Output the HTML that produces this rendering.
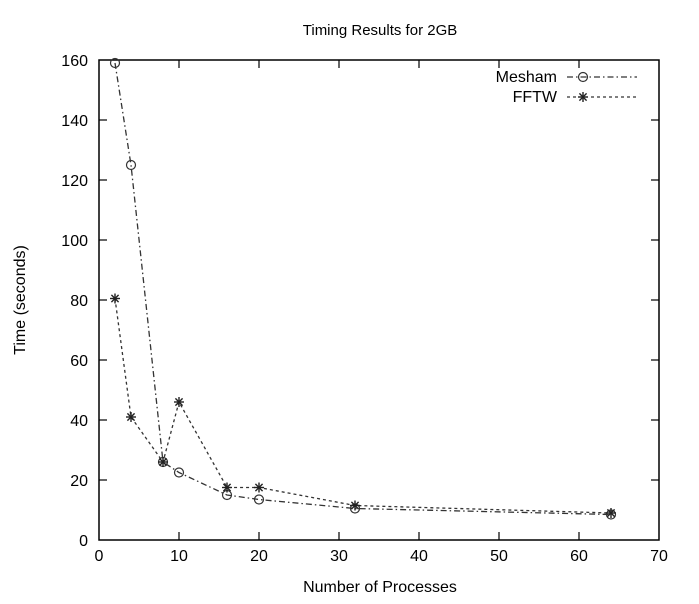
<!DOCTYPE html><html><head><style>body{margin:0;background:#fff}</style></head><body>
<svg width="699" height="599" xmlns="http://www.w3.org/2000/svg" font-family="Liberation Sans, sans-serif" fill="#000">
<defs><g id="st" stroke="#222" stroke-width="1.4"><line x1="-5" y1="0" x2="5" y2="0"/><line x1="0" y1="-5" x2="0" y2="5"/><line x1="-3.6" y1="-3.6" x2="3.6" y2="3.6"/><line x1="-3.6" y1="3.6" x2="3.6" y2="-3.6"/></g></defs>
<rect width="699" height="599" fill="#fff"/>
<text x="380" y="35" font-size="15" text-anchor="middle">Timing Results for 2GB</text>
<rect x="99" y="60" width="560" height="480" fill="none" stroke="#000" stroke-width="1.5"/>
<g stroke="#000" stroke-width="1.2">
<line x1="179" y1="540" x2="179" y2="532"/><line x1="259" y1="540" x2="259" y2="532"/><line x1="339" y1="540" x2="339" y2="532"/><line x1="419" y1="540" x2="419" y2="532"/><line x1="499" y1="540" x2="499" y2="532"/><line x1="579" y1="540" x2="579" y2="532"/>
<line x1="179" y1="60" x2="179" y2="68"/><line x1="259" y1="60" x2="259" y2="68"/><line x1="339" y1="60" x2="339" y2="68"/><line x1="419" y1="60" x2="419" y2="68"/><line x1="499" y1="60" x2="499" y2="68"/><line x1="579" y1="60" x2="579" y2="68"/>
<line x1="99" y1="480" x2="107" y2="480"/><line x1="99" y1="420" x2="107" y2="420"/><line x1="99" y1="360" x2="107" y2="360"/><line x1="99" y1="300" x2="107" y2="300"/><line x1="99" y1="240" x2="107" y2="240"/><line x1="99" y1="180" x2="107" y2="180"/><line x1="99" y1="120" x2="107" y2="120"/>
<line x1="659" y1="480" x2="651" y2="480"/><line x1="659" y1="420" x2="651" y2="420"/><line x1="659" y1="360" x2="651" y2="360"/><line x1="659" y1="300" x2="651" y2="300"/><line x1="659" y1="240" x2="651" y2="240"/><line x1="659" y1="180" x2="651" y2="180"/><line x1="659" y1="120" x2="651" y2="120"/>
</g>
<g font-size="16" text-anchor="middle">
<text x="99" y="561">0</text><text x="179" y="561">10</text><text x="259" y="561">20</text><text x="339" y="561">30</text><text x="419" y="561">40</text><text x="499" y="561">50</text><text x="579" y="561">60</text><text x="659" y="561">70</text>
</g>
<g font-size="16" text-anchor="end">
<text x="88" y="546">0</text><text x="88" y="486">20</text><text x="88" y="426">40</text><text x="88" y="366">60</text><text x="88" y="306">80</text><text x="88" y="246">100</text><text x="88" y="186">120</text><text x="88" y="126">140</text><text x="88" y="66">160</text>
</g>
<text x="380" y="592" font-size="16" text-anchor="middle">Number of Processes</text>
<text transform="translate(25,300) rotate(-90)" font-size="16" text-anchor="middle">Time (seconds)</text>
<polyline fill="none" stroke="#333" stroke-width="1.3" stroke-dasharray="6,3,1.5,3" points="115,63 131,165 163,462 179,472.5 227,495 259,499.5 355,508.5 611,514.5"/>
<polyline fill="none" stroke="#333" stroke-width="1.3" stroke-dasharray="3,3" points="115,298.5 131,417 163,462 179,402 227,487.5 259,487.5 355,505.5 611,513"/>
<g fill="none" stroke="#333" stroke-width="1.2">
<circle cx="115" cy="63" r="4.5"/><circle cx="131" cy="165" r="4.5"/><circle cx="163" cy="462" r="4.5"/><circle cx="179" cy="472.5" r="4.5"/><circle cx="227" cy="495" r="4.5"/><circle cx="259" cy="499.5" r="4.5"/><circle cx="355" cy="508.5" r="4.5"/><circle cx="611" cy="514.5" r="4.5"/>
<circle cx="583" cy="77" r="4.5"/>
</g>
<use href="#st" x="115" y="298.5"/><use href="#st" x="131" y="417"/><use href="#st" x="163" y="462"/><use href="#st" x="179" y="402"/><use href="#st" x="227" y="487.5"/><use href="#st" x="259" y="487.5"/><use href="#st" x="355" y="505.5"/><use href="#st" x="611" y="513"/><use href="#st" x="583" y="97"/>
<line x1="567" y1="77" x2="637" y2="77" stroke="#333" stroke-width="1.3" stroke-dasharray="6,3,1.5,3"/>
<line x1="567" y1="97" x2="637" y2="97" stroke="#333" stroke-width="1.3" stroke-dasharray="3,3"/>
<g font-size="16" text-anchor="end"><text x="557" y="82">Mesham</text><text x="557" y="102">FFTW</text></g>
</svg></body></html>
